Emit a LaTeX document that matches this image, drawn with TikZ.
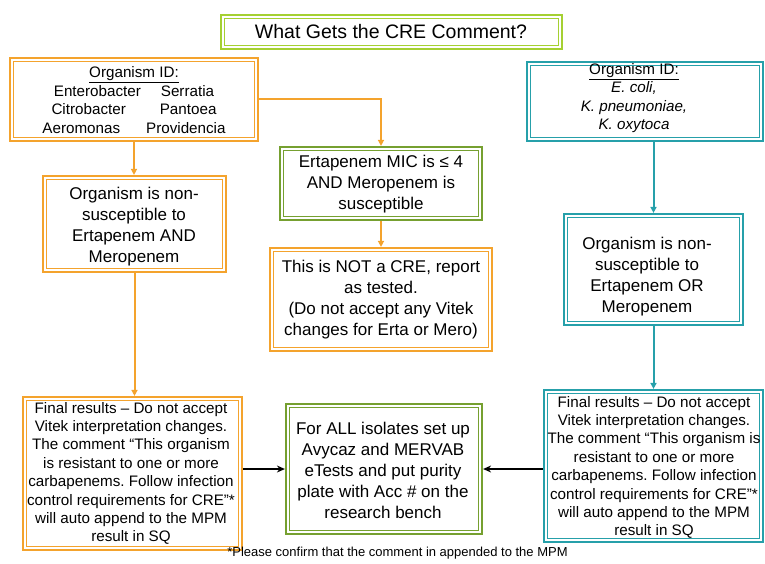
\documentclass[tikz,border=0pt]{standalone}
\usepackage{fontspec}
\setmainfont{Liberation Sans}
\usetikzlibrary{arrows.meta}
\definecolor{corange}{RGB}{244,163,45}
\definecolor{ctitle}{RGB}{165,208,50}
\definecolor{cgreen}{RGB}{118,160,48}
\definecolor{cteal}{RGB}{38,160,170}
\frenchspacing
\tikzset{
  dbox/.style={rectangle, draw=#1, line width=2.2pt, inner sep=0pt,
    path picture={\draw[#1, line width=1.1pt]
      ([shift={(3.4pt,-3.4pt)}]path picture bounding box.north west) rectangle
      ([shift={(-3.4pt,3.4pt)}]path picture bounding box.south east);}},
  txt/.style={align=center, inner sep=0pt, font=\fontsize{17}{21}\selectfont},
  stxt/.style={align=center, inner sep=0pt, font=\fontsize{15.2}{18.4}\selectfont},
  oarr/.style={draw=corange, line width=2pt, -{Triangle[length=6pt,width=6pt]}},
  tarr/.style={draw=cteal, line width=2pt, -{Triangle[length=6pt,width=6pt]}},
  barr/.style={draw=black, line width=1.8pt, -{Stealth[length=8pt,width=7pt]}},
}
\begin{document}
\begin{tikzpicture}[x=1pt,y=-1pt]
\useasboundingbox[fill=white] (0,0) rectangle (765,564);
% boxes
\node[dbox=ctitle, minimum width=341pt, minimum height=34pt] (title) at (391.5,32) {};
\node[dbox=corange, minimum width=248pt, minimum height=83pt] (org1) at (134,99.5) {};
\node[dbox=cgreen, minimum width=202pt, minimum height=73pt] (mic) at (381,183.5) {};
\node[dbox=corange, minimum width=222pt, minimum height=103pt] (notcre) at (381,299.5) {};
\node[dbox=corange, minimum width=183pt, minimum height=96pt] (ns1) at (134.5,224) {};
\node[dbox=corange, minimum width=219pt, minimum height=153pt] (fin1) at (132.5,473.5) {};
\node[dbox=cgreen, minimum width=196pt, minimum height=130pt] (all) at (384,469) {};
\node[dbox=cteal, minimum width=236pt, minimum height=79pt] (org2) at (645,101.5) {};
\node[dbox=cteal, minimum width=179pt, minimum height=111pt] (ns2) at (653.5,269.5) {};
\node[dbox=cteal, minimum width=219pt, minimum height=152pt] (fin2) at (653.5,466) {};
% texts
\node[txt, font=\fontsize{19.5}{22}\selectfont] (titlet) at (391,32) {What Gets the CRE Comment?};
\node[stxt] (org1t) at (134,100) {\underline{Organism ID:}\\
  Enterobacter\hspace{20pt}Serratia\\
  Citrobacter\hspace{34pt}Pantoea\\
  Aeromonas\hspace{26pt}Providencia};
\node[stxt] (org2t) at (634,98) {\underline{Organism ID:}\\ \textit{E. coli,}\\ \textit{K. pneumoniae,}\\ \textit{K. oxytoca}};
\node[txt] (mict) at (381,184) {Ertapenem MIC is ≤ 4\\AND Meropenem is\\susceptible};
\node[txt] (ns1t) at (134,226.5) {Organism is non-\\susceptible to\\Ertapenem AND\\Meropenem};
\node[txt] (notcret) at (381,299.5) {This is NOT a CRE, report\\as tested.\\(Do not accept any Vitek\\changes for Erta or Mero)};
\node[txt] (ns2t) at (647,277) {Organism is non-\\susceptible to\\Ertapenem OR\\Meropenem};
\node[stxt] (fin1t) at (131,473.5) {Final results – Do not accept\\Vitek interpretation changes.\\The comment “This organism\\is resistant to one or more\\carbapenems. Follow infection\\control requirements for CRE”*\\will auto append to the MPM\\result in SQ};
\node[stxt] (fin2t) at (654,467.5) {Final results – Do not accept\\Vitek interpretation changes.\\The comment “This organism is\\resistant to one or more\\carbapenems. Follow infection\\control requirements for CRE”*\\will auto append to the MPM\\result in SQ};
\node[txt] (allt) at (383,470) {For ALL isolates set up\\Avycaz and MERVAB\\eTests and put purity\\plate with Acc \# on the\\research bench};
\node[inner sep=0pt, font=\fontsize{13}{15}\selectfont] (note) at (397.5,553) {*Please confirm that the comment in appended to the MPM};
% connectors
\draw[oarr] (org1.south) -- (org1.south |- ns1.north);
\draw[oarr] (org1.east) -| (mic.north);
\draw[oarr] (mic.south) -- (notcre.north);
\draw[oarr] (ns1.south) -- (ns1.south |- fin1.north);
\draw[tarr] (ns2.north |- org2.south) -- (ns2.north);
\draw[tarr] (ns2.south) -- (fin2.north);
\draw[barr] (fin1.east |- all.west) -- (all.west);
\draw[barr] (fin2.west |- all.east) -- (all.east);
\end{tikzpicture}
\end{document}
